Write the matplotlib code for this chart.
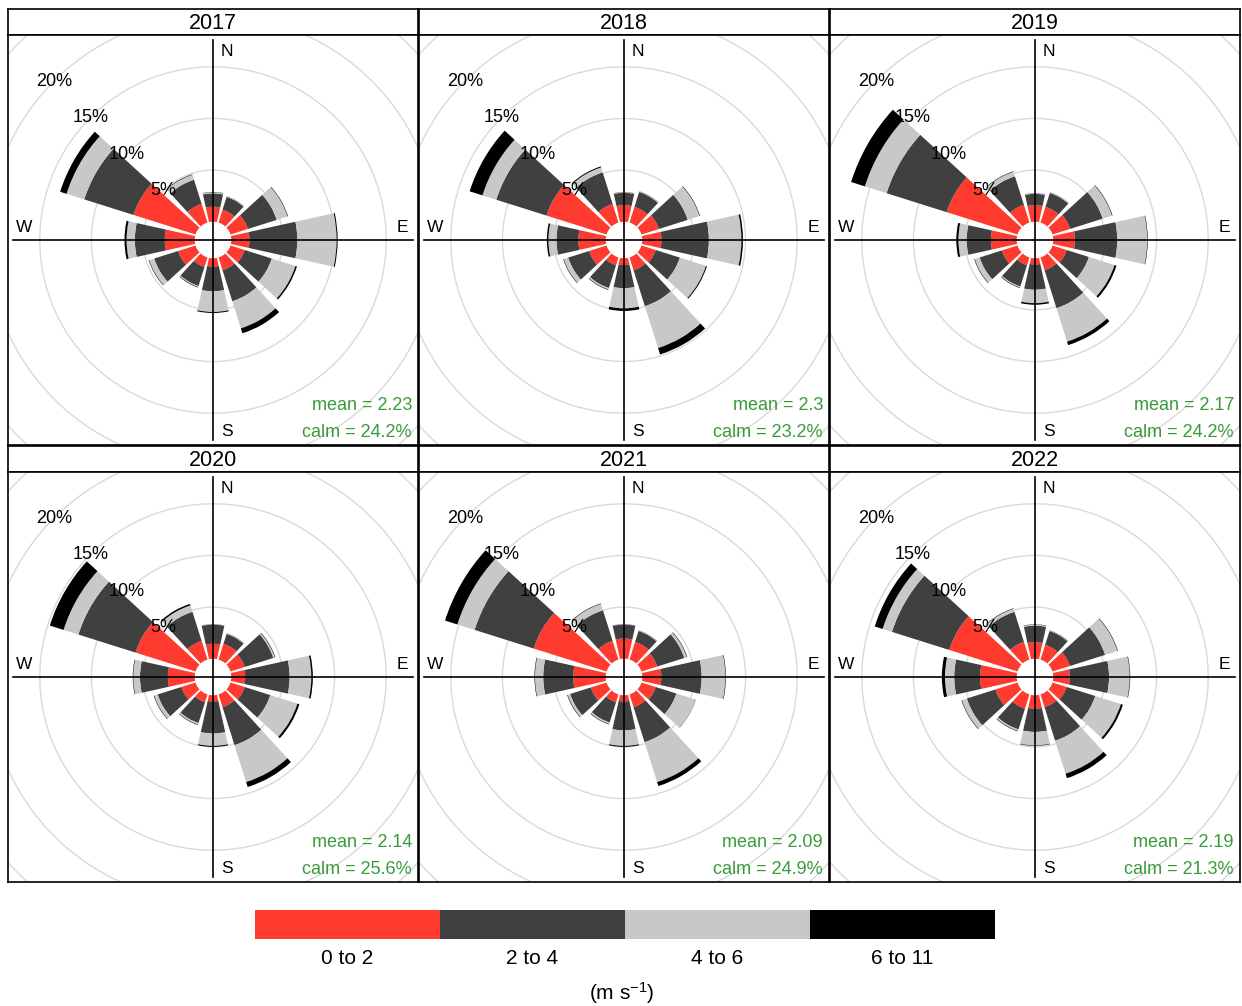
import numpy as np
import matplotlib.pyplot as plt
from matplotlib.patches import Wedge, Circle, Rectangle

plt.rcParams['font.family'] = ['Liberation Sans', 'DejaVu Sans']
plt.rcParams['mathtext.fontset'] = 'custom'
plt.rcParams['mathtext.rm'] = 'Liberation Sans'
plt.rcParams['mathtext.it'] = 'Liberation Sans'

# ---- data ---------------------------------------------------------------
years = ['2017', '2018', '2019', '2020', '2021', '2022']
directions = [0, 30, 60, 90, 120, 150, 180, 210, 240, 270, 300, 330]
band_labels = ['0 to 2', '2 to 4', '4 to 6', '6 to 11']
band_colours = ['#ff3a2f', '#404040', '#c8c8c8', '#000000']
mean_ws = ['2.23', '2.3', '2.17', '2.14', '2.09', '2.19']
calm_pct = ['24.2%', '23.2%', '24.2%', '25.6%', '24.9%', '21.3%']

# cumulative frequency (%) at the outer edge of each speed band, per direction
cum2017 = [[1.45, 1.3, 1.77, 1.77, 1.45, 1.3, 0.8, 0.97, 1.77, 2.9, 6.3, 1.9],
           [2.74, 2.6, 4.7, 6.4, 4.2, 4.45, 3.2, 2.9, 4.2, 5.8, 11.3, 4.35],
           [2.85, 2.65, 5.8, 10.2, 6.6, 7.2, 5.2, 3.0, 4.7, 6.6, 13.1, 4.85],
           [2.88, 2.67, 5.85, 10.3, 6.75, 7.7, 5.3, 3.05, 4.75, 6.8, 13.75, 4.9]]
cum2018 = [[1.6, 1.6, 1.77, 1.87, 1.45, 1.3, 0.65, 0.8, 1.77, 2.65, 6.1, 1.9],
           [2.8, 3.1, 4.7, 6.45, 3.9, 4.95, 2.9, 3.1, 3.9, 4.77, 11.2, 5.1],
           [2.85, 3.15, 5.9, 9.6, 6.55, 9.2, 4.85, 3.25, 4.35, 5.55, 12.6, 5.6],
           [2.87, 3.17, 5.95, 9.75, 6.65, 9.85, 5.1, 3.3, 4.4, 5.7, 13.9, 5.7]]
cum2019 = [[1.6, 1.6, 1.8, 2.1, 1.45, 1.3, 0.6, 0.8, 1.6, 2.5, 7.2, 1.8],
           [2.7, 3.0, 5.1, 6.2, 3.7, 5.15, 3.05, 2.95, 3.85, 4.85, 13.3, 4.7],
           [2.75, 3.05, 6.05, 9.1, 6.3, 8.55, 4.35, 3.05, 4.35, 5.65, 15.5, 5.15],
           [2.77, 3.07, 6.1, 9.15, 6.5, 8.9, 4.5, 3.1, 4.4, 5.85, 16.9, 5.2]]
cum2020 = [[1.45, 1.6, 1.45, 1.35, 1.45, 1.3, 0.6, 0.8, 1.45, 2.6, 6.1, 1.9],
           [3.3, 2.6, 4.35, 5.65, 4.05, 5.15, 3.7, 2.9, 3.85, 5.3, 11.9, 4.85],
           [3.32, 2.65, 4.5, 7.75, 6.8, 8.9, 4.9, 3.05, 4.2, 5.95, 13.4, 5.5],
           [3.34, 2.67, 4.55, 7.9, 7.0, 9.4, 5.0, 3.1, 4.25, 6.0, 14.8, 5.65]]
cum2021 = [[1.95, 1.8, 1.6, 1.85, 1.45, 1.3, 0.6, 0.8, 1.6, 3.15, 7.4, 1.9],
           [3.3, 2.9, 4.35, 5.75, 3.55, 4.85, 3.4, 2.85, 3.7, 6.05, 13.4, 5.0],
           [3.32, 2.95, 4.6, 8.05, 5.5, 8.9, 4.9, 3.0, 3.95, 6.85, 15.15, 5.65],
           [3.34, 2.97, 4.65, 8.1, 5.52, 9.3, 5.0, 3.05, 4.0, 6.9, 16.4, 5.7]]
cum2022 = [[1.6, 1.5, 1.77, 1.6, 1.45, 1.3, 1.3, 1.45, 2.25, 3.55, 6.95, 1.8],
           [3.2, 2.9, 5.35, 5.4, 4.35, 4.7, 3.55, 3.55, 5.15, 6.05, 12.75, 4.85],
           [3.3, 2.95, 6.6, 7.4, 6.95, 8.05, 4.85, 3.7, 5.65, 6.95, 13.7, 5.15],
           [3.33, 2.97, 6.65, 7.45, 7.15, 8.5, 4.9, 3.75, 5.7, 7.25, 14.5, 5.2]]
all_cum = [cum2017, cum2018, cum2019, cum2020, cum2021, cum2022]
rings = [5, 10, 15, 20, 25]

# ---- geometry -----------------------------------------------------------
W, H = 1242, 1006
off = 1.77        # centre hole, in % units
lim = 19.85       # half width of a panel, in % units
half_w = 12.5     # half angular width of a sector (deg)
green = '#3a9a3a'

fig = plt.figure(figsize=(W / 100, H / 100), dpi=100)

def rect(x0, y0, w, h):
    return [x0 / W, 1 - (y0 + h) / H, w / W, h / H]

col_x = [8, 419, 830]
row_y = [(9, 35), (446, 472)]

def rose(ax, cum, mean, calm):
    for v in rings:
        ax.add_patch(Circle((0, 0), off + v, fill=False, ec='#d9d9d9', lw=1.0, zorder=1))
    for j, b in enumerate(directions):
        t1, t2 = 90 - b - half_w, 90 - b + half_w
        inner = 0.0
        for k in range(4):
            outer = cum[k][j]
            if outer > inner:
                ax.add_patch(Wedge((0, 0), off + outer, t1, t2, width=outer - inner,
                                   fc=band_colours[k], ec='none', zorder=2))
            inner = outer
    ax.plot([-19.36, 19.36], [0, 0], color='black', lw=1.2, zorder=3)
    ax.plot([0, 0], [-19.36, 19.36], color='black', lw=1.2, zorder=3)
    ax.text(1.34, 18.3, 'N', ha='center', va='center', fontsize=12.5)
    ax.text(1.34, -18.5, 'S', ha='center', va='center', fontsize=12.5)
    ax.text(18.3, 1.23, 'E', ha='center', va='center', fontsize=12.5)
    ax.text(-18.3, 1.23, 'W', ha='center', va='center', fontsize=12.5)
    for v in rings[:4]:
        r = off + v
        ax.text(-r * np.sqrt(0.5), r * np.sqrt(0.5), '%d%%' % v,
                ha='center', va='center', fontsize=13, zorder=4)
    ax.text(19.26, -16.07, 'mean = ' + mean, ha='right', va='center',
            fontsize=13, color=green)
    ax.text(19.26, -18.68, 'calm = ' + calm, ha='right', va='center',
            fontsize=13, color=green)

for i, yr in enumerate(years):
    r, c = divmod(i, 3)
    sy, py = row_y[r]
    x0 = col_x[c]
    w = 410
    # strip
    sax = fig.add_axes(rect(x0, sy, w, py - sy))
    sax.set_xticks([]); sax.set_yticks([])
    sax.text(0.5, 0.45, yr, ha='center', va='center', fontsize=15.5,
             transform=sax.transAxes)
    for s in sax.spines.values():
        s.set_linewidth(1.2)
    # panel
    ax = fig.add_axes(rect(x0, py, w, 410))
    ax.set_xlim(-lim, lim); ax.set_ylim(-lim, lim)
    ax.set_aspect('equal')
    ax.set_xticks([]); ax.set_yticks([])
    for s in ax.spines.values():
        s.set_linewidth(1.2)
    rose(ax, all_cum[i], mean_ws[i], calm_pct[i])

# ---- key ----------------------------------------------------------------
kax = fig.add_axes(rect(255, 910, 740, 29))
kax.set_xlim(0, 4); kax.set_ylim(0, 1)
kax.axis('off')
for k in range(4):
    kax.add_patch(Rectangle((k, 0), 1, 1, fc=band_colours[k], ec='none'))
    fig.text((255 + 185 * (k + 0.5)) / W, 1 - 958 / H, band_labels[k],
             ha='center', va='center', fontsize=15)
fig.text(622 / W, 1 - 993 / H, r'(m s$^{-1}$)', ha='center', va='center', fontsize=15)

fig.savefig('out.png', dpi=100)
